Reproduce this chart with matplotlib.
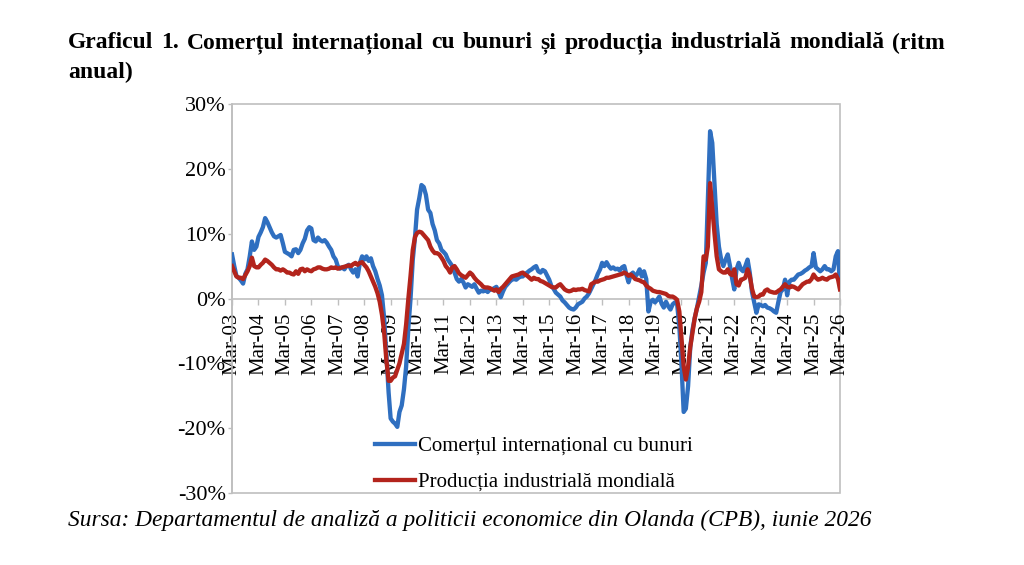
import matplotlib
matplotlib.use("Agg")
import matplotlib.pyplot as plt
import matplotlib.dates as mdates
from matplotlib.patches import Rectangle
from matplotlib.lines import Line2D
import pandas as pd

SERIF = ['Liberation Serif', 'DejaVu Serif']
plt.rcParams['font.family'] = SERIF

title_line1 = "Graficul 1. Comerțul internațional cu bunuri și producția industrială mondială (ritm"
title_line2 = "anual)"
source_text = "Sursa: Departamentul de analiză a politicii economice din Olanda (CPB), iunie 2026"
label_trade = "Comerțul internațional cu bunuri"
label_ind = "Producția industrială mondială"

start_month = "2003-03-01"
y_ticks = [-30, -20, -10, 0, 10, 20, 30]

trade = [
    6.8, 5.0, 3.5, 3.2, 2.8, 2.3, 3.8, 4.5, 6.5, 8.8, 7.5, 8.0,
    9.5, 10.2, 11.0, 12.4, 11.8, 11.0, 10.2, 9.6, 9.4, 9.6, 9.8, 8.5,
    7.2, 7.0, 6.8, 6.5, 7.5, 7.6, 7.0, 7.5, 8.5, 9.2, 10.5, 11.0,
    10.8, 9.0, 8.8, 9.4, 9.0, 8.8, 9.0, 8.6, 8.0, 7.5, 6.5, 6.0,
    5.0, 4.6, 4.8, 4.5, 5.0, 5.2, 4.5, 4.0, 4.5, 3.4, 5.5, 6.5,
    6.0, 6.5, 5.8, 6.2, 5.0, 4.2, 3.0, 2.0, 0.5, -3.0, -8.5, -14.5,
    -18.5, -19.0, -19.3, -19.8, -17.5, -16.5, -14.0, -10.5, -4.5, 0.0, 6.0, 9.5,
    13.7, 15.5, 17.5, 17.2, 16.0, 13.7, 13.2, 11.5, 10.5, 9.0, 8.5, 7.5,
    7.2, 6.8, 6.0, 5.5, 5.0, 4.0, 3.0, 2.6, 3.0, 2.5, 1.7, 2.2,
    2.0, 1.8, 2.2, 1.5, 0.9, 1.2, 1.1, 1.3, 1.0, 1.4, 1.4, 1.6,
    1.8, 1.0, 0.2, 1.1, 1.8, 2.2, 2.6, 2.9, 3.0, 2.9, 3.2, 3.4,
    3.4, 3.8, 4.0, 4.3, 4.5, 4.8, 5.0, 4.2, 4.0, 4.4, 4.2, 3.5,
    2.9, 1.9, 1.5, 0.9, 0.6, 0.3, -0.3, -0.6, -1.0, -1.4, -1.6, -1.7,
    -1.4, -0.9, -0.7, -0.5, 0.0, 0.3, 0.8, 1.5, 2.2, 2.9, 3.8, 4.5,
    5.5, 5.0, 5.6, 5.0, 4.6, 4.8, 4.5, 4.6, 4.3, 4.8, 5.0, 3.6,
    2.5, 3.7, 4.0, 3.4, 3.8, 4.5, 3.4, 4.2, 3.0, -2.0, -0.5, -0.2,
    -0.6, -0.2, 0.3, -0.8, -1.4, -0.5, -1.2, -1.7, -0.9, -0.6, -0.8, -4.3,
    -10.0, -17.5, -17.0, -13.5, -7.5, -4.8, -3.0, -1.5, 0.3, 2.0, 4.0, 5.5,
    15.0, 25.8, 24.0, 17.5, 11.5, 8.0, 6.0, 5.0, 6.0, 6.8, 5.0, 3.0,
    1.4, 4.5, 5.5, 4.5, 4.2, 5.0, 6.0, 4.0, 1.0, -0.6, -2.2, -0.9,
    -1.0, -1.2, -1.0, -1.4, -1.5, -1.7, -2.0, -2.2, -0.5, 1.0, 1.4, 2.9,
    0.5, 2.6, 2.9, 2.9, 3.3, 3.7, 3.8, 4.0, 4.3, 4.5, 4.8, 5.0,
    7.0, 4.8, 4.5, 4.2, 4.5, 5.0, 4.5, 4.5, 4.2, 4.5, 6.5, 7.3,
    1.8,
]

industry = [
    5.0, 4.2, 3.4, 3.2, 3.2, 3.0, 3.6, 4.2, 5.0, 6.3, 5.0, 4.8,
    4.8, 5.2, 5.5, 6.0, 5.8, 5.5, 5.2, 4.8, 4.5, 4.5, 4.3, 4.5,
    4.3, 4.0, 4.0, 3.8, 3.7, 4.2, 3.8, 4.5, 4.6, 4.2, 4.5, 4.3,
    4.2, 4.5, 4.6, 4.8, 4.8, 4.6, 4.5, 4.5, 4.6, 4.8, 4.7, 4.8,
    4.6, 4.7, 4.8, 4.9, 5.0, 5.1, 5.0, 5.3, 5.5, 5.2, 5.5, 5.6,
    5.2, 4.8, 4.2, 3.4, 2.6, 1.8, 0.8, -0.5, -2.5, -5.2, -9.5, -12.7,
    -12.7, -12.2, -12.0, -11.0, -10.0, -8.5, -7.0, -4.0, 0.0, 3.5, 7.5, 9.5,
    10.1, 10.3, 10.2, 9.8, 9.4, 9.0, 8.0, 7.4, 7.0, 7.0, 6.8, 6.3,
    5.8, 5.0, 4.6, 4.0, 4.8, 5.0, 4.5, 3.9, 3.6, 3.4, 3.2, 3.6,
    4.0, 3.7, 3.2, 2.8, 2.5, 2.2, 1.8, 1.7, 1.7, 1.6, 1.4, 1.2,
    1.4, 1.0, 1.5, 1.8, 2.2, 2.6, 3.0, 3.4, 3.5, 3.6, 3.7, 3.9,
    4.0, 3.7, 3.5, 3.2, 2.9, 3.2, 3.0, 3.0, 2.7, 2.6, 2.4, 2.2,
    2.0, 1.8, 1.7, 1.7, 2.0, 2.2, 1.8, 1.4, 1.2, 1.1, 1.2, 1.4,
    1.3, 1.4, 1.4, 1.5, 1.3, 1.2, 1.1, 2.2, 2.4, 2.6, 2.6, 2.8,
    2.9, 3.0, 3.2, 3.2, 3.3, 3.4, 3.5, 3.6, 3.7, 3.8, 4.0, 3.8,
    3.5, 3.7, 3.4, 3.0, 2.9, 2.8, 2.6, 2.5, 2.0, 1.7, 1.5, 1.2,
    1.1, 1.0, 1.0, 0.9, 0.8, 0.7, 0.4, 0.3, 0.3, 0.1, -0.2, -2.0,
    -6.0, -10.5, -12.5, -10.5, -7.5, -5.2, -3.0, -1.5, -0.5, 1.0, 6.5, 6.0,
    8.0, 17.8, 14.0, 10.0, 6.5, 4.5, 4.2, 4.0, 4.0, 4.5, 3.8, 3.6,
    4.5, 2.2, 2.0, 2.9, 3.0, 3.2, 4.5, 3.5, 1.5, 0.3, 0.2, 0.3,
    0.6, 0.6, 1.2, 1.4, 1.1, 1.0, 0.9, 0.9, 1.2, 1.4, 1.8, 2.2,
    1.8, 1.7, 1.9, 1.8, 1.6, 1.4, 1.8, 2.2, 2.4, 2.6, 2.6, 3.0,
    3.7, 3.2, 2.9, 3.0, 3.2, 3.0, 2.9, 3.2, 3.3, 3.4, 3.7, 3.0,
    1.4,
]

BLUE = '#2F6FC0'
RED = '#B3241C'
GRAY = '#BFBFBF'
FS = 15
FS_Y = 16
FS_TITLE = 17
FS_SRC = 16.85

dates = pd.date_range(start_month, periods=len(trade), freq='MS')

fig = plt.figure(figsize=(10.24, 5.65), dpi=100)
ax = fig.add_axes([232 / 1024, 1 - 493 / 565, (840 - 232) / 1024, (493 - 104) / 565])

ax.plot(dates, trade, color=BLUE, lw=3.1, solid_joinstyle='round', zorder=3)
ax.plot(dates, industry, color=RED, lw=3.1, solid_joinstyle='round', zorder=4)

ax.set_xlim(dates[0], dates[-1])
ax.set_ylim(-30, 30)
ax.set_yticks(y_ticks)
ax.set_yticklabels([f"{v}%" for v in y_ticks], fontsize=FS_Y)

ax.xaxis.set_major_locator(mdates.MonthLocator(bymonth=3))
ax.xaxis.set_major_formatter(mdates.DateFormatter('%b-%y'))
ax.tick_params(axis='x', labelsize=FS, labelrotation=90, length=4, width=1,
               color=GRAY, pad=6)
ax.tick_params(axis='y', length=3, width=1, color=GRAY, pad=1.5)

for s in ['top', 'right']:
    ax.spines[s].set_visible(False)
ax.spines['bottom'].set_position(('data', 0))
ax.spines['bottom'].set_color(GRAY)
ax.spines['bottom'].set_linewidth(1.2)
ax.spines['left'].set_color(GRAY)
ax.spines['left'].set_linewidth(1.2)
ax.add_patch(Rectangle((0, 0), 1, 1, transform=ax.transAxes, fill=False,
                       edgecolor=GRAY, lw=1.2, clip_on=False, zorder=1))

handles = [Line2D([], [], color=BLUE, lw=3.1), Line2D([], [], color=RED, lw=3.1)]
fig.legend(handles, [label_trade, label_ind], loc='upper left',
           bbox_to_anchor=(367 / 1024, 1 - 428 / 565), frameon=False,
           fontsize=FS, handlelength=1.9, handletextpad=0.15,
           labelspacing=0.8, borderaxespad=0)

# justified title line
fig.canvas.draw()
renderer = fig.canvas.get_renderer()
words = title_line1.split(' ')
left_px, right_px = 68, 945
y1 = 1 - 43 / 565
objs = []
widths = []
for w in words:
    t = fig.text(0, y1, w, fontsize=FS_TITLE, fontweight='bold', va='center', ha='left')
    objs.append(t)
    widths.append(t.get_window_extent(renderer).width)
gap = (right_px - left_px - sum(widths)) / (len(words) - 1)
x = left_px
for t, wd in zip(objs, widths):
    t.set_x(x / 1024)
    x += wd + gap
fig.text(68 / 1024, 1 - 72 / 565, title_line2, fontsize=FS_TITLE, fontweight='bold',
         va='center', ha='left')

fig.text(68 / 1024, 1 - 520 / 565, source_text, fontsize=FS_SRC, style='italic',
         va='center', ha='left')

fig.savefig('out.png', dpi=100, facecolor='white')
